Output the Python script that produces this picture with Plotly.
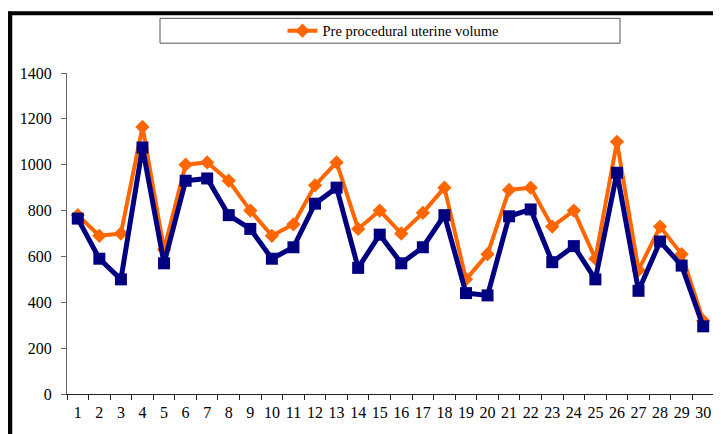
import plotly.graph_objects as go

# donnees
patients = [str(i) for i in range(1, 31)]
vol_pre = [780, 690, 700, 1165, 630, 1000, 1010, 930, 800, 690,
           740, 910, 1010, 720, 800, 700, 790, 900, 500, 610,
           890, 900, 730, 800, 590, 1100, 540, 730, 610, 320]
vol_post = [765, 590, 500, 1075, 570, 930, 940, 780, 720, 590,
            640, 830, 900, 550, 695, 570, 640, 780, 440, 430,
            775, 805, 575, 645, 500, 965, 450, 665, 560, 295]
y_ticks = [0, 200, 400, 600, 800, 1000, 1200, 1400]

# la page html ajoute 8px de marge (body) -> on decale tout de 8px
OFF = 8
W, H = 721 - OFF, 434 - OFF
L, R, T, B = 67 - OFF, 7, 71 - OFF, 40
pw, ph = W - L - R, H - T - B
serif = "Liberation Serif, Times New Roman, serif"


def px_x(p):  # pixel ecran -> paper
    return (p - OFF - L) / pw


def px_y(p):
    return (H - B - (p - OFF)) / ph


fig = go.Figure()

fig.add_scatter(
    x=patients, y=vol_pre,
    name="Pre procedural uterine volume",
    mode="lines+markers",
    line=dict(color="#FF6600", width=4),
    marker=dict(symbol="diamond", size=11, color="#FF6600"),
)
fig.add_scatter(
    x=patients, y=vol_post,
    name="Post procedural uterine volume",
    mode="lines+markers",
    line=dict(color="#000080", width=5),
    marker=dict(symbol="square", size=12, color="#000080"),
    showlegend=False,
)

# cadre noir (bord gauche + haut) et boite de legende
fig.add_shape(type="line", xref="paper", yref="paper",
              x0=px_x(10), x1=px_x(10), y0=px_y(9), y1=px_y(440),
              line=dict(color="black", width=4.5))
fig.add_shape(type="line", xref="paper", yref="paper",
              x0=px_x(8), x1=px_x(730), y0=px_y(11), y1=px_y(11),
              line=dict(color="black", width=4))
fig.add_shape(type="rect", xref="paper", yref="paper",
              x0=px_x(160), x1=px_x(620), y0=px_y(16), y1=px_y(41),
              line=dict(color="#555555", width=1), fillcolor="white", layer="below")

fig.update_layout(
    width=W, height=H,
    margin=dict(l=L, r=R, t=T, b=B),
    plot_bgcolor="white",
    paper_bgcolor="white",
    font=dict(family=serif, size=16, color="black"),
    legend=dict(
        x=px_x(393), y=px_y(28.5), xanchor="center", yanchor="middle",
        orientation="h", bgcolor="rgba(0,0,0,0)",
        font=dict(family=serif, size=14.5, color="black"),
    ),
    xaxis=dict(
        type="category",
        range=[-0.5, 29.5],
        tickson="boundaries",
        tickangle=0, automargin=False,
        ticks="outside", ticklen=5, tickcolor="#222222",
        ticklabelstandoff=4,
        showline=True, linecolor="#222222", linewidth=1,
        showgrid=False,
    ),
    yaxis=dict(
        range=[0, 1400],
        tickvals=y_ticks, automargin=False,
        ticks="outside", ticklen=5, tickcolor="#666666",
        ticklabelstandoff=6,
        showline=True, linecolor="#666666", linewidth=1,
        showgrid=False, zeroline=False,
    ),
)

fig.write_html("out.html")
